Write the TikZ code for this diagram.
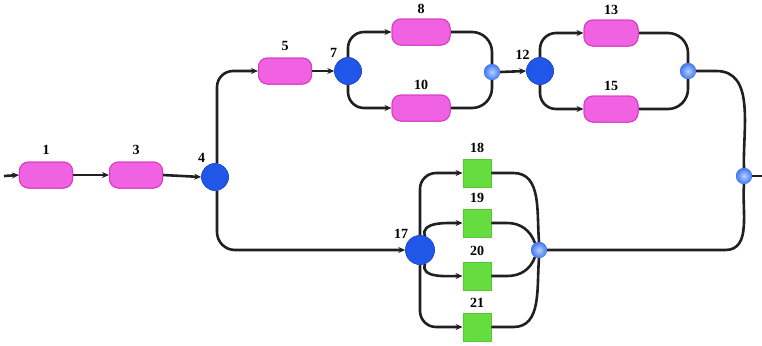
\documentclass[tikz,border=0pt]{standalone}
\usepackage{fontspec}
\setmainfont{Liberation Serif}
\usetikzlibrary{arrows.meta,shapes.geometric}
\definecolor{pillfill}{HTML}{F062E2}
\definecolor{pilldraw}{HTML}{D93AC9}
\definecolor{boxfill}{HTML}{66DD3E}
\definecolor{boxdraw}{HTML}{55C832}
\definecolor{bigblue}{HTML}{2157E8}
\definecolor{smallblue}{HTML}{4C8CF2}
\definecolor{wire}{HTML}{202020}
\tikzset{
  pill/.style={rectangle, rounded corners=9bp, minimum width=53bp, minimum height=26bp,
    fill=pillfill, draw=pilldraw, line width=1bp, inner sep=0pt},
  gbox/.style={rectangle, minimum width=28bp, minimum height=28bp,
    fill=boxfill, draw=boxdraw, line width=0.8bp, inner sep=0pt},
  bigdot/.style={circle, minimum size=27bp, inner sep=0pt, fill=bigblue, draw=bigblue!85!black, line width=0.5bp},
  mdot/.style={circle, minimum size=16bp, inner sep=0pt, shading=radial,
    inner color=smallblue!40!white, outer color=smallblue!85!blue},
  lbl/.style={font=\bfseries\fontsize{14bp}{14bp}\selectfont, text=black},
  wireln/.style={draw=wire, line width=2.6bp},
  arr/.style={wireln, -{Stealth[length=7bp,width=6bp]}},
}
\begin{document}
\begin{tikzpicture}[x=1bp,y=-1bp]
\useasboundingbox[fill=white] (0,0) rectangle (762,345);
% nodes
\coordinate (in) at (4,176);
\node[pill, label={[lbl,label distance=3bp]above:1}] (n1) at (46,175) {};
\node[pill, label={[lbl,label distance=3bp]above:3}] (n3) at (136,175) {};
\node[bigdot, label={[lbl,label distance=-1bp]120:4}] (n4) at (215,177) {};
\node[pill, label={[lbl,label distance=3bp]above:5}] (n5) at (285,71) {};
\node[bigdot, label={[lbl,label distance=-1bp]125:7}] (n7) at (348,71) {};
\node[pill, minimum width=58bp, label={[lbl,label distance=1bp]above:8}] (n8) at (421,32) {};
\node[pill, minimum width=58bp, label={[lbl,label distance=1bp]above:10}] (n10) at (421,108) {};
\node[mdot] (m1) at (492,72) {};
\node[bigdot, label={[lbl,label distance=-3bp]130:12}] (n12) at (540,71) {};
\node[pill, minimum width=54bp, label={[lbl,label distance=1bp]above:13}] (n13) at (611,33) {};
\node[pill, minimum width=54bp, label={[lbl,label distance=1bp]above:15}] (n15) at (611,109) {};
\node[mdot] (m2) at (688,71) {};
\node[mdot] (m4) at (744,176) {};
\coordinate (out) at (762,176);
\node[bigdot, minimum size=29bp, label={[lbl,label distance=-3bp]135:17}] (n17) at (420,250) {};
\node[gbox, label={[lbl,label distance=2bp]above:18}] (n18) at (477,173) {};
\node[gbox, label={[lbl,label distance=2bp]above:19}] (n19) at (477,223) {};
\node[gbox, label={[lbl,label distance=2bp]above:20}] (n20) at (477,276) {};
\node[gbox, label={[lbl,label distance=2bp]above:21}] (n21) at (477,327) {};
\node[mdot] (m3) at (539,250) {};
% connectors
\draw[arr] (in) -- (n1.west);
\draw[arr] (n1.east) -- (n3.west);
\draw[arr] (n3.east) -- (n4.west);
\draw[arr, rounded corners=16bp] ([xshift=2bp]n4.north) |- (n5.west);
\draw[arr] (n5.east) -- (n7.west);
\draw[arr, rounded corners=16bp] (n7.north) |- (n8.west);
\draw[arr, rounded corners=16bp] (n7.south) |- (n10.west);
\draw[wireln, rounded corners=20bp] (n8.east) -| (m1.north);
\draw[wireln, rounded corners=20bp] (n10.east) -| (m1.south);
\draw[arr] (m1.east) -- (n12.west);
\draw[arr, rounded corners=16bp] (n12.north) |- (n13.west);
\draw[arr, rounded corners=16bp] (n12.south) |- (n15.west);
\draw[wireln, rounded corners=20bp] (n13.east) -| (m2.north);
\draw[wireln, rounded corners=20bp] (n15.east) -| (m2.south);
\draw[wireln] (m2.east) -- ++(20,0) to[out=0,in=92] (m4.north);
\draw[wireln] (m3.east) -- ++(178,0) to[out=0,in=-95] (m4.south);
\draw[wireln] (m4.east) -- (out);
\draw[arr, rounded corners=18bp] ([xshift=2bp]n4.south) |- (n17.west);
\draw[arr, rounded corners=16bp] (n17.north) |- (n18.west);
\draw[arr, rounded corners=16bp] (n17.south) |- (n21.west);
\draw[arr] (n17.70) to[out=110,in=180] (n19.west);
\draw[arr] (n17.-70) to[out=-110,in=180] (n20.west);
\draw[wireln] (n18.east) -- ++(22,0) to[out=0,in=95] (m3.north);
\draw[wireln] (n21.east) -- ++(22,0) to[out=0,in=-95] (m3.south);
\draw[wireln] (n19.east) -- ++(16,0) to[out=0,in=110] (m3.120);
\draw[wireln] (n20.east) -- ++(16,0) to[out=0,in=-110] (m3.-120);
% redraw nodes on top of the wires
\node[pill] at (n1) {};
\node[pill] at (n3) {};
\node[bigdot] at (n4) {};
\node[pill] at (n5) {};
\node[bigdot] at (n7) {};
\node[pill, minimum width=58bp] at (n8) {};
\node[pill, minimum width=58bp] at (n10) {};
\node[mdot] at (m1) {};
\node[bigdot] at (n12) {};
\node[pill, minimum width=54bp] at (n13) {};
\node[pill, minimum width=54bp] at (n15) {};
\node[mdot] at (m2) {};
\node[mdot] at (m4) {};
\node[mdot] at (m3) {};
\node[bigdot, minimum size=29bp] at (n17) {};
\end{tikzpicture}
\end{document}
